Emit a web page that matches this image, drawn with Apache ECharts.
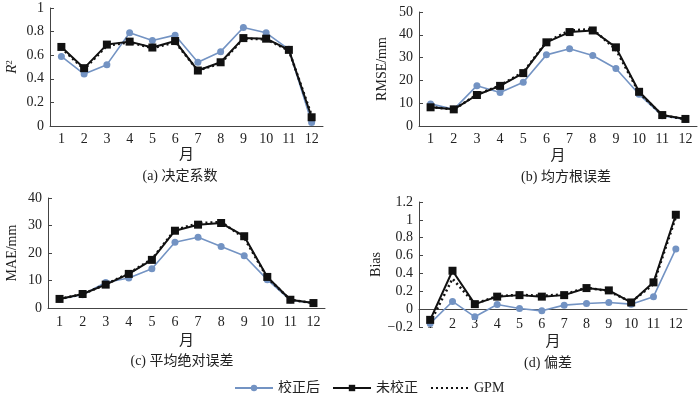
<!DOCTYPE html>
<html><head><meta charset="utf-8">
<script src="https://cdn.jsdelivr.net/npm/echarts@6/dist/echarts.min.js"></script>
<style>html,body{margin:0;padding:0;background:#fff}#c{width:700px;height:393px}</style>
</head><body><div id="c"></div>
<script>
const months = ['1','2','3','4','5','6','7','8','9','10','11','12'];
const seriesNames = ['校正后','未校正','GPM'];
// (a) R2
const r2Corrected   = [0.59,0.44,0.52,0.79,0.725,0.77,0.54,0.63,0.835,0.79,0.65,0.03];
const r2Uncorrected = [0.67,0.49,0.69,0.715,0.665,0.72,0.47,0.54,0.745,0.74,0.645,0.074];
const r2Gpm         = [0.66,0.48,0.68,0.71,0.66,0.71,0.47,0.53,0.74,0.735,0.64,0.09];
// (b) RMSE
const rmseCorrected   = [9.7,7.3,17.7,14.7,19.2,31.2,33.9,30.9,25.2,13.9,4.5,2.9];
const rmseUncorrected = [8.2,7.3,13.6,17.6,23.2,36.7,41.2,41.9,34.5,15.0,4.8,3.1];
const rmseGpm         = [8.4,7.2,13.8,17.8,23.6,36.9,41.9,42.5,33.5,14.6,4.7,3.0];
// (c) MAE
const maeCorrected   = [3.3,4.8,9.3,10.9,14.3,23.9,25.7,22.4,19.0,10.3,2.9,1.7];
const maeUncorrected = [3.3,5.1,8.5,12.4,17.5,28.1,30.3,30.9,26.1,11.3,3.0,1.8];
const maeGpm         = [3.3,5.0,8.6,12.6,17.8,28.4,30.8,31.3,25.5,11.0,3.0,1.8];
// (d) Bias
const biasCorrected   = [-0.16,0.086,-0.086,0.052,0.008,-0.019,0.045,0.064,0.075,0.056,0.14,0.675];
const biasUncorrected = [-0.12,0.43,0.056,0.14,0.157,0.14,0.157,0.236,0.21,0.075,0.30,1.057];
const biasGpm         = [-0.15,0.34,0.06,0.145,0.16,0.15,0.165,0.24,0.2,0.08,0.28,1.03];
const captions = ['(a) 决定系数','(b) 均方根误差','(c) 平均绝对误差','(d) 偏差'];

const FONT = "'Liberation Serif','Noto Sans CJK SC',serif";
const AX = '#444';
const BLUE = '#7393c3';
const BLACK = '#111';

const grids = [
  {left:50, right:377, top:8, bottom:267},
  {left:419, right:3, top:12, bottom:267},
  {left:48, right:375, top:198, bottom:85},
  {left:419, right:13, top:202, bottom:66}
];
const yCfg = [
  {min:0,max:1,interval:0.2,name:'{i|R}{s|2}',gap:30},
  {min:0,max:50,interval:10,name:'RMSE/mm',gap:30},
  {min:0,max:40,interval:10,name:'MAE/mm',gap:29},
  {min:-0.2,max:1.2,interval:0.2,name:'Bias',gap:30}
];
const xMargin=[6,6,7,-10], xNameGap=[22,23,26,8];
const data = [
  [r2Corrected,r2Uncorrected,r2Gpm],
  [rmseCorrected,rmseUncorrected,rmseGpm],
  [maeCorrected,maeUncorrected,maeGpm],
  [biasCorrected,biasUncorrected,biasGpm]
];
const captionX=[180,566,182,548], captionY=[176,177,361,363];

const xAxis=[], yAxis=[], series=[];
for(let i=0;i<4;i++){
  xAxis.push({type:'category',gridIndex:i,data:months,boundaryGap:true,
    name:'月',nameLocation:'middle',nameGap:xNameGap[i],
    nameTextStyle:{fontFamily:FONT,fontSize:15,color:'#222'},
    axisLine:{onZero:true,lineStyle:{color:AX,width:1}},
    axisTick:{inside:true,length:4,lineStyle:{color:AX}},
    axisLabel:{fontFamily:FONT,fontSize:14,color:'#222',margin:xMargin[i],interval:0},
    splitLine:{show:false}});
  const c=yCfg[i];
  yAxis.push({type:'value',gridIndex:i,min:c.min,max:c.max,interval:c.interval,
    name:c.name,nameLocation:'middle',nameGap:c.gap,nameRotate:90,
    nameTextStyle:{fontFamily:FONT,fontSize:14,color:'#222',
      rich:{i:{fontFamily:FONT,fontStyle:'italic',fontSize:15,color:'#222'},s:{fontFamily:FONT,fontSize:9,verticalAlign:'top',color:'#222'}}},
    axisLine:{show:true,lineStyle:{color:AX,width:1}},
    axisTick:{show:true,inside:true,length:4,lineStyle:{color:AX}},
    axisLabel:{fontFamily:FONT,fontSize:14,color:'#222',margin:6,
      formatter:v=>String(Math.round(v*10)/10).replace('-','\u2212')},
    splitLine:{show:false}});
  series.push({name:seriesNames[0],type:'line',xAxisIndex:i,yAxisIndex:i,data:data[i][0],
    symbol:'circle',symbolSize:7,color:BLUE,lineStyle:{color:BLUE,width:1.6},itemStyle:{color:BLUE},z:2});
  series.push({name:seriesNames[1],type:'line',xAxisIndex:i,yAxisIndex:i,data:data[i][1],
    symbol:'rect',symbolSize:8,color:BLACK,lineStyle:{color:BLACK,width:2},itemStyle:{color:BLACK},z:3});
  series.push({name:seriesNames[2],type:'line',xAxisIndex:i,yAxisIndex:i,data:data[i][2],
    showSymbol:false,symbol:'none',color:BLACK,lineStyle:{color:BLACK,width:2.5,type:[2,3]},z:4});
}
const graphic = captions.map((t,i)=>({type:'text',x:captionX[i],y:captionY[i],
  style:{text:t,font:"14px "+FONT,fill:'#222',textAlign:'center',textVerticalAlign:'middle'}}));

const chart = echarts.init(document.getElementById('c'),null,{renderer:'canvas'});
chart.setOption({
  animation:false,
  grid:grids,
  xAxis:xAxis, yAxis:yAxis, series:series,
  graphic:graphic,
  legend:{data:[{name:'校正后'},{name:'未校正'},{name:'GPM',itemStyle:{opacity:0}}],
    left:229,top:376,itemWidth:38,itemHeight:8,itemGap:12,
    textStyle:{fontFamily:FONT,fontSize:14,color:'#222'}}
});
</script></body></html>
